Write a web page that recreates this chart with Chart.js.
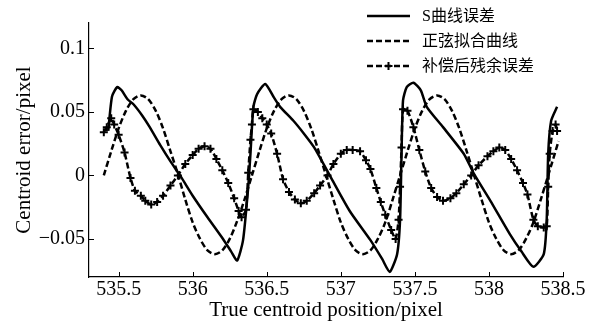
<!DOCTYPE html>
<html>
<head>
<meta charset="utf-8">
<script src="https://cdn.jsdelivr.net/npm/chart.js@4"></script>
<style>
  html, body { margin: 0; padding: 0; background: #fff; }
  #wrap { width: 592px; height: 329px; }
</style>
</head>
<body>
<div id="wrap"><canvas id="myChart" width="592" height="329"></canvas></div>
<script>
// S curve error (solid)
let sCurveX = [535.43, 535.455, 535.49, 535.52, 535.56, 535.60, 535.66, 535.71, 535.78, 535.85,
  535.92, 536.00, 536.10, 536.21, 536.26, 536.30, 536.34, 536.375, 536.39, 536.41,
  536.435, 536.49, 536.55, 536.59, 536.68, 536.75, 536.82, 536.93, 537.06, 537.20,
  537.28, 537.33, 537.38, 537.40, 537.41, 537.42, 537.445, 537.49, 537.54, 537.58,
  537.69, 537.83, 537.90, 538.01, 538.14, 538.22, 538.30, 538.37, 538.39, 538.40,
  538.42, 538.46];
let sCurveY = [0.035, 0.062, 0.0695, 0.067, 0.060, 0.056, 0.047, 0.038, 0.024, 0.011,
  -0.001, -0.016, -0.033, -0.051, -0.060, -0.067, -0.051, -0.009, 0.017, 0.054,
  0.064, 0.072, 0.061, 0.054, 0.043, 0.033, 0.022, -0.001, -0.028, -0.051,
  -0.066, -0.076, -0.062, -0.035, 0.017, 0.059, 0.0695, 0.073, 0.067, 0.054,
  0.038, 0.017, 0.001, -0.020, -0.046, -0.060, -0.072, -0.062, -0.035, 0.017,
  0.043, 0.054];

// sine fit (dashed)
let sineX = [535.40, 535.45, 535.50, 535.55, 535.60, 535.65, 535.70, 535.75, 535.80, 535.85,
  535.90, 535.95, 536.00, 536.05, 536.10, 536.15, 536.20, 536.25, 536.30, 536.35,
  536.40, 536.45, 536.50, 536.55, 536.60, 536.65, 536.70, 536.75, 536.80, 536.85,
  536.90, 536.95, 537.00, 537.05, 537.10, 537.15, 537.20, 537.25, 537.30, 537.35,
  537.40, 537.45, 537.50, 537.55, 537.60, 537.65, 537.70, 537.75, 537.80, 537.85,
  537.90, 537.95, 538.00, 538.05, 538.10, 538.15, 538.20, 538.25, 538.30, 538.35,
  538.40, 538.47];
let sineY = [0.000, 0.019, 0.037, 0.051, 0.060, 0.063, 0.060, 0.051, 0.037, 0.019,
  0.001, -0.019, -0.037, -0.050, -0.059, -0.062, -0.059, -0.050, -0.036, -0.019,
  0.000, 0.019, 0.037, 0.051, 0.060, 0.063, 0.060, 0.051, 0.037, 0.019,
  0.000, -0.019, -0.037, -0.050, -0.059, -0.062, -0.059, -0.050, -0.037, -0.019,
  0.000, 0.019, 0.037, 0.051, 0.060, 0.063, 0.060, 0.051, 0.037, 0.019,
  0.000, -0.019, -0.037, -0.050, -0.059, -0.062, -0.059, -0.050, -0.037, -0.019,
  0.000, 0.027];

// residual after compensation (dashed with + markers)
let residX = [535.40, 535.42, 535.45, 535.47, 535.50, 535.54, 535.58, 535.61, 535.65, 535.68,
  535.72, 535.76, 535.80, 535.85, 535.90, 535.95, 536.00, 536.04, 536.08, 536.12,
  536.16, 536.20, 536.24, 536.28, 536.31, 536.33, 536.36, 536.375, 536.39, 536.40,
  536.41, 536.44, 536.47, 536.50, 536.53, 536.57, 536.61, 536.65, 536.69, 536.73,
  536.77, 536.82, 536.86, 536.91, 536.95, 537.00, 537.04, 537.08, 537.13, 537.17,
  537.20, 537.24, 537.27, 537.30, 537.34, 537.37, 537.39, 537.40, 537.41, 537.42,
  537.45, 537.49, 537.53, 537.57, 537.61, 537.65, 537.69, 537.74, 537.78, 537.83,
  537.88, 537.93, 537.99, 538.03, 538.07, 538.11, 538.15, 538.19, 538.23, 538.26,
  538.30, 538.33, 538.37, 538.39, 538.40, 538.41, 538.43, 538.45, 538.46];
let residY = [0.034, 0.038, 0.045, 0.040, 0.032, 0.018, -0.002, -0.012, -0.016, -0.020,
  -0.023, -0.021, -0.016, -0.008, 0.000, 0.009, 0.016, 0.021, 0.023, 0.021,
  0.013, 0.004, -0.006, -0.018, -0.028, -0.033, -0.027, 0.002, 0.028, 0.040,
  0.052, 0.050, 0.045, 0.040, 0.033, 0.017, -0.003, -0.013, -0.019, -0.022,
  -0.020, -0.014, -0.008, 0.000, 0.009, 0.017, 0.020, 0.020, 0.019, 0.012,
  0.005, -0.010, -0.021, -0.031, -0.043, -0.050, -0.035, -0.009, 0.022, 0.052,
  0.051, 0.038, 0.020, 0.003, -0.010, -0.017, -0.020, -0.018, -0.014, -0.007,
  0.000, 0.008, 0.015, 0.019, 0.022, 0.020, 0.013, 0.004, -0.006, -0.015,
  -0.035, -0.040, -0.041, -0.040, -0.009, 0.017, 0.035, 0.040, 0.035];

let xTicks = [535.5, 536, 536.5, 537, 537.5, 538, 538.5];
let xTickText = ['535.5', '536', '536.5', '537', '537.5', '538', '538.5'];
let yTicks = [-0.05, 0, 0.05, 0.1];
let yTickText = ['\u22120.05', '0', '0.05', '0.1'];
let seriesNames = ['S曲线误差', '正弦拟合曲线', '补偿后残余误差'];

function pts(xs, ys) {
    return xs.map((x, i) => ({x: x, y: ys[i]}));
}

// MATLAB style ticks pointing into the plot
const innerTicks = {
    id: 'innerTicks',
    afterDraw(chart) {
        const {ctx, chartArea, scales} = chart;
        ctx.save();
        ctx.strokeStyle = '#000';
        ctx.lineWidth = 1;
        ctx.beginPath();
        scales.x.ticks.forEach(t => {
            const px = Math.round(scales.x.getPixelForValue(t.value)) + 0.5;
            ctx.moveTo(px, chartArea.bottom);
            ctx.lineTo(px, chartArea.bottom - 5);
        });
        scales.y.ticks.forEach(t => {
            const py = Math.round(scales.y.getPixelForValue(t.value)) + 0.5;
            ctx.moveTo(chartArea.left, py);
            ctx.lineTo(chartArea.left + 5, py);
        });
        ctx.stroke();
        ctx.restore();
    }
};

// legend drawn over the top right of the plot
const lineLegend = {
    id: 'lineLegend',
    afterDraw(chart) {
        const ctx = chart.ctx;
        const x0 = 367, x1 = 410, rows = [16, 41, 66];
        ctx.save();
        chart.data.datasets.forEach((ds, i) => {
            const y = rows[i];
            ctx.strokeStyle = '#000';
            ctx.lineWidth = 2.5;
            ctx.setLineDash(ds.borderDash.length ? [6, 3] : []);
            ctx.beginPath();
            ctx.moveTo(x0, y);
            ctx.lineTo(x1, y);
            ctx.stroke();
            ctx.setLineDash([]);
            if (ds.pointRadius > 0) {
                const cx = (x0 + x1) / 2;
                ctx.lineWidth = 2;
                ctx.beginPath();
                ctx.moveTo(cx - 4, y); ctx.lineTo(cx + 4, y);
                ctx.moveTo(cx, y - 4); ctx.lineTo(cx, y + 4);
                ctx.stroke();
            }
            ctx.fillStyle = '#000';
            ctx.font = '16px "Liberation Serif", "Noto Sans CJK SC"';
            ctx.textBaseline = 'middle';
            ctx.fillText(ds.label, 422, y + 1);
        });
        ctx.restore();
    }
};

let myChart = document.getElementById('myChart').getContext('2d');

let chart = new Chart(myChart, {
    type: 'line',
    data: {
        datasets: [
            {
                label: seriesNames[0],
                data: pts(sCurveX, sCurveY),
                borderColor: '#000',
                borderWidth: 2.5,
                borderDash: [],
                pointRadius: 0,
                tension: 0.2
            },
            {
                label: seriesNames[1],
                data: pts(sineX, sineY),
                borderColor: '#000',
                borderWidth: 2.5,
                borderDash: [6, 3],
                pointRadius: 0,
                tension: 0.3
            },
            {
                label: seriesNames[2],
                data: pts(residX, residY),
                borderColor: '#000',
                borderWidth: 2.5,
                borderDash: [6, 3],
                pointStyle: 'cross',
                pointRadius: 4,
                pointBorderWidth: 2,
                pointBorderColor: '#000',
                tension: 0.2
            }
        ]
    },
    options: {
        responsive: false,
        animation: false,
        events: [],
        layout: {
            padding: {top: 23, right: 29, left: 0, bottom: 0}
        },
        plugins: {
            legend: {display: false},
            tooltip: {enabled: false}
        },
        scales: {
            x: {
                type: 'linear',
                min: 535.3,
                max: 538.5,
                afterBuildTicks: s => { s.ticks = xTicks.map(v => ({value: v})); },
                afterFit: s => { s.height = 52; },
                grid: {display: false, drawTicks: false},
                border: {display: true, color: '#000', width: 1.2},
                ticks: {
                    color: '#000',
                    padding: 1,
                    maxRotation: 0,
                    callback: v => xTickText[xTicks.indexOf(v)],
                    font: {family: '"Liberation Serif"', size: 20}
                },
                title: {
                    display: true,
                    text: 'True centroid position/pixel',
                    color: '#000',
                    padding: {top: 0, bottom: 6},
                    font: {family: '"Liberation Serif"', size: 21}
                }
            },
            y: {
                type: 'linear',
                min: -0.08,
                max: 0.12,
                afterBuildTicks: s => { s.ticks = yTicks.map(v => ({value: v})); },
                afterFit: s => { s.width = 89; },
                grid: {display: false, drawTicks: false},
                border: {display: true, color: '#000', width: 1.2},
                ticks: {
                    color: '#000',
                    padding: 4,
                    callback: v => yTickText[yTicks.indexOf(v)],
                    font: {family: '"Liberation Serif"', size: 20}
                },
                title: {
                    display: true,
                    text: 'Centroid error/pixel',
                    color: '#000',
                    padding: {top: 12, bottom: 0},
                    font: {family: '"Liberation Serif"', size: 21}
                }
            }
        }
    },
    plugins: [innerTicks, lineLegend]
});
</script>
</body>
</html>
